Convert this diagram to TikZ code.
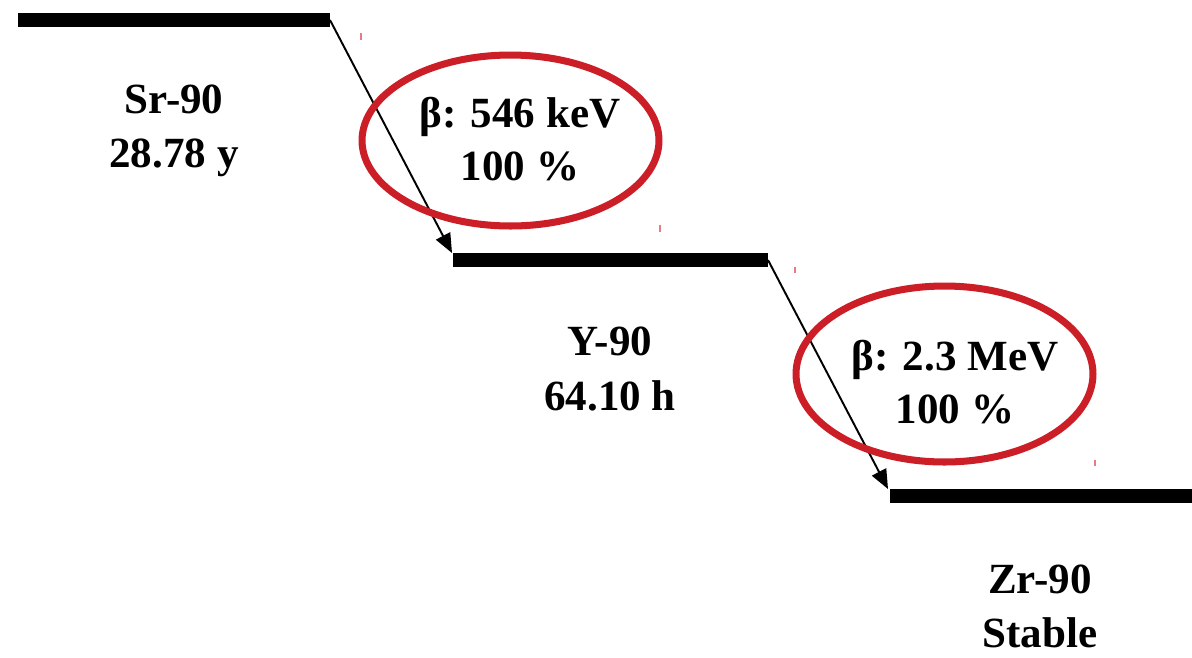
\documentclass[tikz,border=0pt]{standalone}
\usepackage{fontspec}
\setmainfont{Liberation Serif}
\usetikzlibrary{arrows.meta,shapes.geometric}
\definecolor{ringred}{RGB}{204,30,38}
\definecolor{tickred}{RGB}{236,120,130}
\begin{document}
\begin{tikzpicture}[x=0.02cm,y=-0.02cm,
  level/.style={line width=7.5pt},
  decay/.style={line width=1.1pt,-{Triangle[length=11pt,width=9pt]}},
  ring/.style={ellipse,draw=ringred,line width=4pt,inner sep=0pt},
  lbl/.style={font=\bfseries\fontsize{24.5}{29}\selectfont,anchor=base,inner sep=0pt},
  tick/.style={draw=tickred,line width=1pt}]
\useasboundingbox (0,0) rectangle (1192,657);
\fill[white] (0,0) rectangle (1192,657);

% energy levels
\coordinate (sr-l) at (18,20);   \coordinate (sr-r) at (330,20);
\coordinate (y-l)  at (453,260); \coordinate (y-r)  at (768,260);
\coordinate (zr-l) at (890,496); \coordinate (zr-r) at (1192,496);
\draw[level] (sr-l) -- (sr-r);
\draw[level] (y-l) -- (y-r);
\draw[level] (zr-l) -- (zr-r);

% beta decays
\coordinate (y-tip)  at (452,253);
\coordinate (zr-tip) at (888,489);
\draw[decay] (sr-r) -- (y-tip);
\draw[decay] (y-r) -- (zr-tip);

% highlighted decay labels
\node[ring,minimum width=5.94cm,minimum height=3.42cm] (ring1) at (510.5,140.5) {};
\node[ring,minimum width=5.94cm,minimum height=3.52cm] (ring2) at (944.5,374) {};

% small marks
\draw[tick] (361,33) -- (361,40);
\draw[tick] (660,225) -- (660,232);
\draw[tick] (795,267) -- (795,273);
\draw[tick] (1095,460) -- (1095,466);

% nuclide names and half-lives
\node[lbl] (sr-name) at (174,113) {Sr-90};
\node[lbl] (sr-life) at (174,167) {28.78 y};
\node[lbl] (y-name)  at (610,355) {Y-90};
\node[lbl] (y-life)  at (610,410) {64.10 h};
\node[lbl] (zr-name) at (1040,593) {Zr-90};
\node[lbl] (zr-life) at (1040,647) {Stable};

% decay energies and branching
\node[lbl] (b1-e) at (520,127) {β: 546 keV};
\node[lbl] (b1-p) at (520,180) {100 \%};
\node[lbl] (b2-e) at (955,370) {β: 2.3 MeV};
\node[lbl] (b2-p) at (955,423) {100 \%};
\end{tikzpicture}
\end{document}
